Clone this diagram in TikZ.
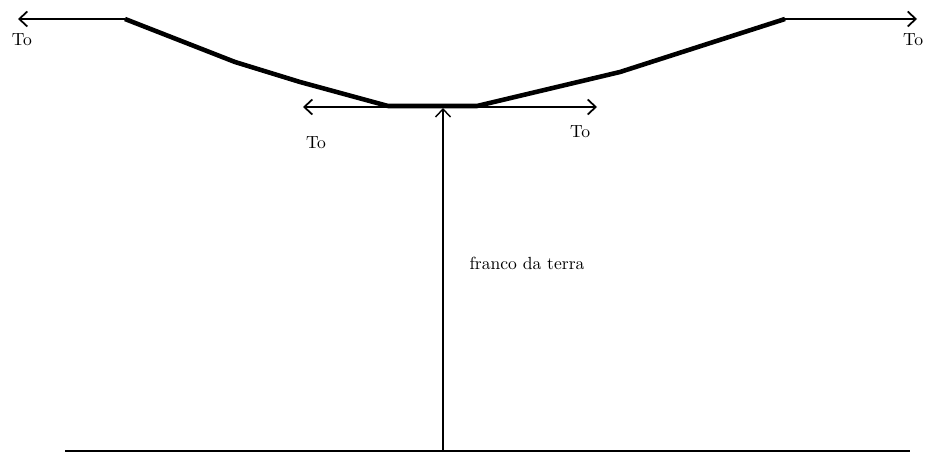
\documentclass[tikz,border=0pt]{standalone}
\usepackage{tikz}
\usetikzlibrary{arrows.meta, positioning}

\begin{document}
\begin{tikzpicture}[
  x=0.02cm, y=-0.02cm,
  cable/.style={line width=2.6pt, line join=round},
  pull/.style={-{Straight Barb[length=1.6mm, width=3mm]}, line width=1pt},
  bothpull/.style={{Straight Barb[length=1.6mm, width=3mm]}-{Straight Barb[length=1.6mm, width=3mm]}, line width=1pt},
  ground/.style={line width=0.8pt},
  tlabel/.style={font=\normalsize, inner sep=1pt}
]
\useasboundingbox (0,0) rectangle (928,452);
\coordinate (cl) at (125,19);
\coordinate (cr) at (785,19);
\coordinate (ml) at (388,106);
\coordinate (mr) at (477,106);
\coordinate (endl) at (18,19);
\coordinate (endr) at (917,19);
\coordinate (tl) at (303,107);
\coordinate (tr) at (597,107);
\coordinate (top) at (443,108);
\coordinate (foot) at (443,451);
\coordinate (gl) at (65,451);
\coordinate (gr) at (910,451);
\draw[cable] (cl) -- (235,62) -- (300,82) -- (ml) -- (mr) -- (620,72) -- (cr);
\draw[pull] (cl) -- (endl);
\draw[pull] (cr) -- (endr);
\draw[bothpull] (tl) -- (tr);
\draw[pull, line width=0.8pt] (foot) -- (top);
\draw[ground] (gl) -- (gr);
\node[tlabel] (t1) at (22,40) {To};
\node[tlabel] (t2) at (316,143) {To};
\node[tlabel] (t3) at (580,132) {To};
\node[tlabel] (t4) at (913,40) {To};
\node[tlabel] (h) at (527,263) {franco da terra};
\end{tikzpicture}
\end{document}
